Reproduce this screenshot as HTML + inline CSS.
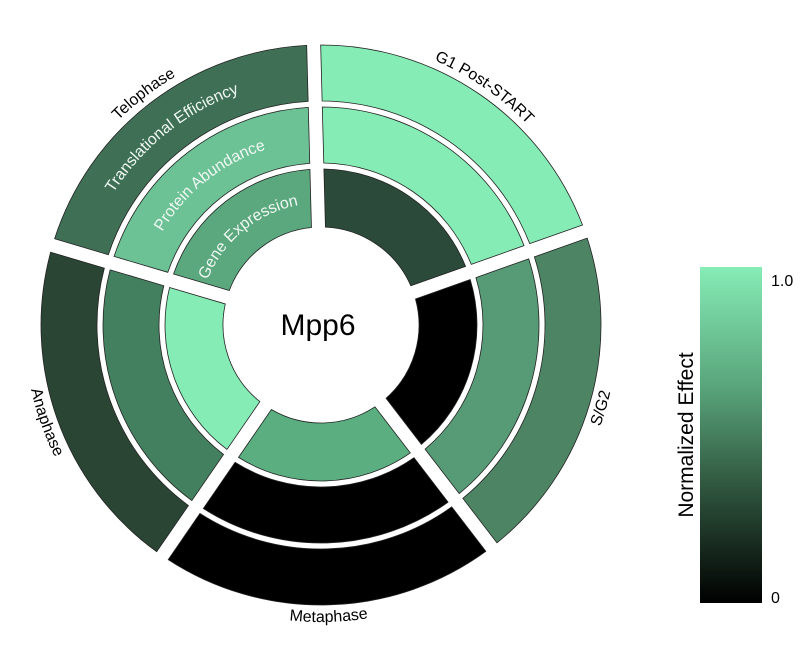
<!DOCTYPE html>
<html><head><meta charset="utf-8"><style>
html,body{margin:0;padding:0;background:#fff;}
svg{display:block;font-family:"Liberation Sans",Arial,sans-serif;}
</style></head><body>
<svg id="s" width="800" height="650" viewBox="0 0 800 650" xmlns="http://www.w3.org/2000/svg">
<defs id="d">
<linearGradient id="cb" x1="0" y1="0" x2="0" y2="1">
<stop offset="0" stop-color="#86ecb6"/>
<stop offset="0.35" stop-color="#5aa67c"/>
<stop offset="0.65" stop-color="#30573f"/>
<stop offset="1" stop-color="#000"/>
</linearGradient>
</defs>
<g id="segs"></g>
<text font-size="16" fill="#000"><textPath href="#pG1" startOffset="50%" text-anchor="middle">G1 Post-START</textPath></text>
<text font-size="16" fill="#000"><textPath href="#pTe" startOffset="50%" text-anchor="middle">Telophase</textPath></text>
<text font-size="16" fill="#000"><textPath href="#pSG" startOffset="50%" text-anchor="middle">S/G2</textPath></text>
<text font-size="16" fill="#000"><textPath href="#pMe" startOffset="50%" text-anchor="middle">Metaphase</textPath></text>
<text font-size="16" fill="#000"><textPath href="#pAn" startOffset="50%" text-anchor="middle">Anaphase</textPath></text>
<text font-size="16" fill="#eef8f2"><textPath href="#pR1" startOffset="50%" text-anchor="middle">Translational Efficiency</textPath></text>
<text font-size="16" fill="#eef8f2"><textPath href="#pR2" startOffset="50%" text-anchor="middle">Protein Abundance</textPath></text>
<text font-size="16" fill="#eef8f2"><textPath href="#pR3" startOffset="50%" text-anchor="middle">Gene Expression</textPath></text>
<text x="318" y="335" font-size="30" text-anchor="middle" fill="#000">Mpp6</text>
<rect x="700" y="267" width="62" height="336" fill="url(#cb)"/>
<text x="771" y="286" font-size="16" fill="#000">1.0</text>
<text x="771" y="603" font-size="16" fill="#000">0</text>
<text transform="translate(693,435) rotate(-90)" font-size="21" text-anchor="middle" fill="#000">Normalized Effect</text>
</svg>
<script>
var cx=321,cy=325,NS="http://www.w3.org/2000/svg",OFF=-1.5;
function pt(r,a){var t=(a+OFF)*Math.PI/180;return [cx+r*Math.sin(t),cy-r*Math.cos(t)];}
function sector(r0,r1,a0,a1,pad){
 var o0=a0+Math.asin(pad/r1)*180/Math.PI,o1=a1-Math.asin(pad/r1)*180/Math.PI;
 var i0=a0+Math.asin(pad/r0)*180/Math.PI,i1=a1-Math.asin(pad/r0)*180/Math.PI;
 var A=pt(r1,o0),B=pt(r1,o1),C=pt(r0,i1),D=pt(r0,i0);
 return "M"+A+" A"+r1+","+r1+" 0 0 1 "+B+" L"+C+" A"+r0+","+r0+" 0 0 0 "+D+"Z";
}
var rings=[[97,157],[161,219],[223,281]];
var cols=[
 ["#2b4a3a","#86ecb6","#86ecb6"],
 ["#000000","#579a76","#4d8464"],
 ["#5aae80","#000000","#000000"],
 ["#86ecb6","#43805f","#2b4535"],
 ["#5ba87e","#6cc195","#3f6f55"]];
var g=document.getElementById("segs");
for(var i=0;i<5;i++){for(var j=0;j<3;j++){
 var p=document.createElementNS(NS,"path");
 p.setAttribute("d",sector(rings[j][0]+1,rings[j][1]-1,i*72,i*72+72,7));
 p.setAttribute("fill",cols[i][j]);p.setAttribute("stroke","#222");p.setAttribute("stroke-width","0.8");
 g.appendChild(p);}}
var d=document.getElementById("d");
function arc(id,r,a0,a1){
 var A=pt(r,a0),B=pt(r,a1),sw=a1>a0?1:0;
 var p=document.createElementNS(NS,"path");p.setAttribute("id",id);
 p.setAttribute("d","M"+A+" A"+r+","+r+" 0 0 "+sw+" "+B);p.setAttribute("fill","none");d.appendChild(p);}
arc("pG1",288,0,72);
arc("pTe",288,288,360);
arc("pSG",297,144,72);
arc("pMe",297,216,144);
arc("pAn",297,288,216);
arc("pR1",246,288,358);
arc("pR2",184,288,358);
arc("pR3",122,286,358);
</script>
</body></html>
